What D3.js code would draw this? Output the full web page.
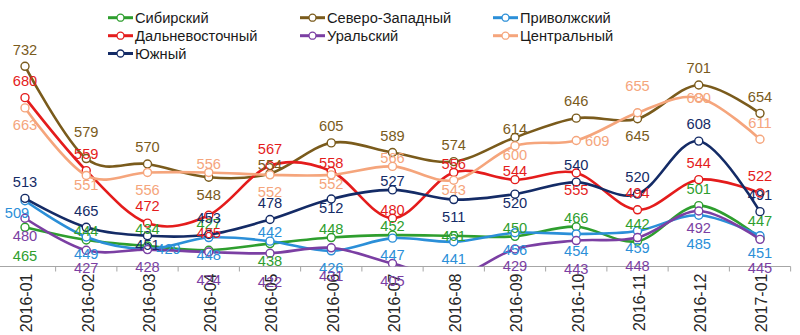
<!DOCTYPE html>
<html><head><meta charset="utf-8">
<script src="https://cdn.jsdelivr.net/npm/d3@7"></script>
<style>
html,body{margin:0;padding:0;background:#fff;}
svg{display:block;font-family:"Liberation Sans",Arial,sans-serif;}
</style></head>
<body><svg id="c" width="800" height="335"></svg>
<script>
const months = ["2016-01","2016-02","2016-03","2016-04","2016-05","2016-06","2016-07","2016-08","2016-09","2016-10","2016-11","2016-12","2017-01"];
const seriesNames = ["Сибирский","Северо-Западный","Приволжский","Дальневосточный","Уральский","Центральный","Южный"];
const sibirsky   = [465,444,434,427,438,448,452,451,450,466,442,501,447];
const severoZap  = [732,579,570,548,554,605,589,574,614,646,645,701,654];
const privolzh   = [509,449,429,448,442,426,447,441,456,454,459,485,451];
const dalnevost  = [680,559,472,485,567,558,480,556,544,555,494,544,522];
const uralsky    = [480,427,428,424,422,431,405,383,429,443,448,492,445];
const centralny  = [663,551,556,556,552,552,566,543,600,609,655,680,611];
const yuzhny     = [513,465,451,453,478,512,527,511,520,540,520,608,491];
const yDomain = [400, 800];

// styling (not data)
const colors = ["#2e9e2e","#7a5b1c","#2b8fd8","#e41c1c","#7b3fa3","#f5a57c","#142b66"];
const labelPos = [
  ['B','n','a','A','b','n','n','c','n','n','a','a','a'],
  ['a','A','a','b','n','a','a','a','n','a','b','a','a'],
  ['l','b','r','b','n','b','b','b','b','b','b','B','b'],
  ['a','a','a','b','a','n','n','n','n','b','a','a','a'],
  ['b','b','b','B','B','B','b','','b','B','B','b','B'],
  ['b','bn','b','n','b','bn','n','bn','bn','r','A','c','a'],
  ['a','a','bn','a','a','bn','n','b','bn','a','a','a','a']
];
const posOff = {a:[0,-17],A:[0,-27],n:[0,-9],c:[0,0],bn:[0,9],b:[0,17],B:[0,28],r:[21,0],l:[-8,12]};

const values = [sibirsky,severoZap,privolzh,dalnevost,uralsky,centralny,yuzhny];
const series = seriesNames.map((n,i)=>({name:n,color:colors[i],values:values[i].map((v,j)=>({m:months[j],v:v,pos:labelPos[i][j]}))}));

const svg = d3.select("#c");
const bw = 61.25;
const x = d3.scaleBand().domain(months).range([25-bw/2, 25+bw*12+bw/2]).padding(0);
const cx = m => x(m) + x.bandwidth()/2;
const y = d3.scaleLinear().domain(yDomain).range([266.5, 25.3]);

svg.append("defs").append("clipPath").attr("id","plot")
  .append("rect").attr("x",-10).attr("y",y(yDomain[1])).attr("width",810).attr("height",y(yDomain[0])-y(yDomain[1]));

// axis
const axisG = svg.append("g").attr("transform",`translate(0,${y(yDomain[0])})`)
  .call(d3.axisBottom(x).tickSize(0).tickPadding(0));
axisG.select(".domain").remove();
axisG.append("line").attr("x1",0).attr("x2",x.range()[1]).attr("y1",0).attr("y2",0)
  .attr("stroke","#a6a6a6").attr("stroke-width",1);
const bounds = months.map(m=>x(m)).concat([x.range()[1]]);
axisG.selectAll(".bt").data(bounds).enter().append("line").attr("class","bt")
  .attr("x1",d=>d).attr("x2",d=>d).attr("y1",0).attr("y2",5).attr("stroke","#a6a6a6");
axisG.selectAll(".tick text")
  .attr("transform",`translate(${x.bandwidth()/2+1.5},0) rotate(-90)`)
  .attr("x",-7).attr("y",0).attr("dy","0.36em")
  .style("text-anchor","end").style("font-size","16px").style("font-family","'Liberation Sans',Arial,sans-serif").attr("fill","#262626");
axisG.selectAll(".tick").attr("transform",d=>`translate(${x(d)},0)`);

const line = d3.line().x(d=>cx(d.m)).y(d=>y(d.v)).curve(d3.curveCardinal.tension(0));
const plot = svg.append("g").attr("clip-path","url(#plot)");
series.forEach(s=>{
  plot.append("path").attr("d",line(s.values)).attr("fill","none").attr("stroke",s.color).attr("stroke-width",2.6);
  plot.selectAll(null).data(s.values).enter().append("circle")
    .attr("cx",d=>cx(d.m)).attr("cy",d=>y(d.v)).attr("r",4)
    .attr("fill","#fff").attr("stroke",s.color).attr("stroke-width",1.4);
});
const labG = svg.append("g").style("font-size","14.67px");
series.forEach(s=>{
  labG.selectAll(null).data(s.values.filter(d=>d.pos && d.v>=yDomain[0])).enter().append("text")
    .attr("x",d=>cx(d.m)+posOff[d.pos][0]).attr("y",d=>y(d.v)+posOff[d.pos][1])
    .attr("dy","0.36em").attr("text-anchor","middle").attr("fill",s.color).text(d=>d.v);
});

// legend
const legCols = [108,300,493], legRows = [17.7,35.7,53.5];
const leg = svg.append("g").style("font-size","14.67px");
series.forEach((s,i)=>{
  const lx = legCols[i%3], ly = legRows[Math.floor(i/3)];
  const g = leg.append("g").attr("transform",`translate(${lx},${ly})`);
  g.append("line").attr("x1",0).attr("x2",25).attr("y1",0).attr("y2",0).attr("stroke",s.color).attr("stroke-width",3);
  g.append("circle").attr("cx",12.5).attr("cy",0).attr("r",3.5).attr("fill","#fff").attr("stroke",s.color).attr("stroke-width",1.3);
  g.append("text").attr("x",27).attr("y",0).attr("dy","0.36em").attr("fill","#1a1a1a").text(s.name);
});
</script></body></html>
